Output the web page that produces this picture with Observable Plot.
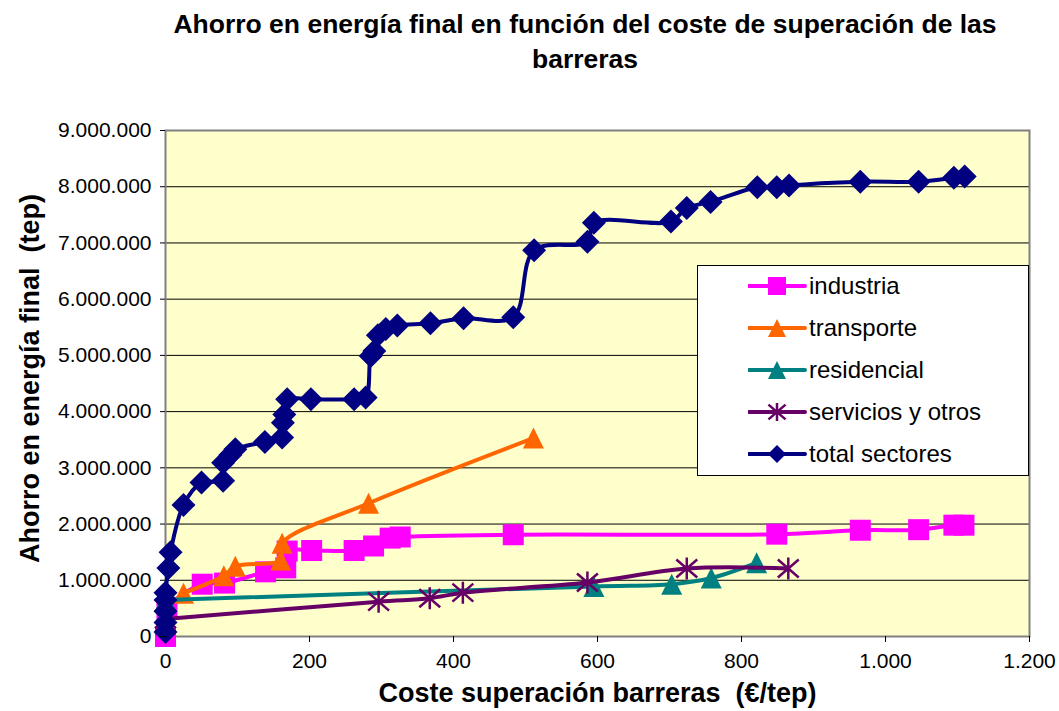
<!DOCTYPE html>
<html><head><meta charset="utf-8">
<script src="https://cdn.jsdelivr.net/npm/d3@7"></script>
<script src="https://cdn.jsdelivr.net/npm/@observablehq/plot@0.6"></script>
<style>
body{margin:0;background:#fff;font-family:"Liberation Sans",Arial,sans-serif;}
#wrap{position:relative;width:1059px;height:711px;overflow:hidden;background:#fff;}
#title{position:absolute;left:100px;width:970px;top:7px;text-align:center;font-weight:bold;font-size:26.5px;line-height:35px;color:#000;}
#chart{position:absolute;left:0;top:90px;}
#legend{position:absolute;left:697px;top:265px;width:332px;height:211px;border:1px solid #000;background:#fff;box-sizing:border-box;}
.row{position:absolute;left:50px;height:30px;display:flex;align-items:center;font-size:24px;color:#000;white-space:nowrap;}
svg text{white-space:pre;}
</style></head>
<body>
<div id="wrap">
  <div id="title">Ahorro en energía final en función del coste de superación de las<br>barreras</div>
  <div id="chart"></div>
  <div id="legend"></div>
</div>
<script>
// ---- data ----
const seriesNames = ["industria", "transporte", "residencial", "servicios y otros", "total sectores"];
const xTicks = [0, 200, 400, 600, 800, 1000, 1200];
const yTicks = [0, 1000000, 2000000, 3000000, 4000000, 5000000, 6000000, 7000000, 8000000, 9000000];

const indX = [0, 2, 51, 82, 139, 167, 169, 203, 262, 289, 312, 326, 483, 849, 965, 1046, 1095, 1109];
const indY = [0, 480000, 930000, 950000, 1150000, 1220000, 1520000, 1530000, 1530000, 1610000, 1750000, 1770000, 1810000, 1820000, 1890000, 1900000, 1980000, 1980000];

const traX = [25, 81, 97, 160, 162, 282, 511];
const traY = [770000, 1080000, 1250000, 1360000, 1660000, 2370000, 3530000];

const resX = [0, 595, 703, 758, 821];
const resY = [650000, 890000, 930000, 1040000, 1310000];

const serX = [0, 296, 367, 413, 586, 724, 865];
const serY = [310000, 620000, 680000, 780000, 960000, 1210000, 1210000];

const totX = [0, 0, 0, 0, 0, 4, 7, 25, 50, 80, 80, 90, 97, 138, 162, 163, 165, 169, 202, 262, 278, 285, 290, 295, 306, 322, 368, 414, 483, 512, 586, 595, 702, 724, 757, 822, 849, 866, 965, 1046, 1095, 1110];
const totY = [80000, 250000, 450000, 650000, 780000, 1220000, 1500000, 2340000, 2740000, 2770000, 3090000, 3230000, 3330000, 3460000, 3540000, 3800000, 3950000, 4220000, 4220000, 4220000, 4250000, 4990000, 5080000, 5360000, 5470000, 5530000, 5570000, 5660000, 5680000, 6870000, 7020000, 7360000, 7380000, 7620000, 7730000, 7990000, 7990000, 8020000, 8090000, 8090000, 8160000, 8180000];

// ---- custom Excel-like symbols (half extent s = sqrt(size)/2) ----
const sqSym = {draw(c, size){const s=Math.sqrt(size)/2;c.moveTo(-s,-s);c.lineTo(s,-s);c.lineTo(s,s);c.lineTo(-s,s);c.closePath();}};
const triSym = {draw(c, size){const s=Math.sqrt(size)/2;c.moveTo(0,-s);c.lineTo(s,s);c.lineTo(-s,s);c.closePath();}};
const diaSym = {draw(c, size){const s=Math.sqrt(size)/2;c.moveTo(0,-s);c.lineTo(s,0);c.lineTo(0,s);c.lineTo(-s,0);c.closePath();}};
const astSym = {draw(c, size){const s=Math.sqrt(size)/2;c.moveTo(0,-s);c.lineTo(0,s);c.moveTo(-s*0.95,-s*0.82);c.lineTo(s*0.95,s*0.82);c.moveTo(-s*0.95,s*0.82);c.lineTo(s*0.95,-s*0.82);}};

const colors = ["#FF00FF", "#FF6600", "#008080", "#660066", "#000080"];
const symbols = [sqSym, triSym, triSym, astSym, diaSym];
const halfSizes = [10.5, 10.5, 10.5, 11, 12];
const xsAll = [indX, traX, resX, serX, totX];
const ysAll = [indY, traY, resY, serY, totY];

const fmt = d3.formatLocale({decimal: ",", thousands: ".", grouping: [3], currency: ["", "€"]}).format(",d");

const marks = [
  Plot.frame({fill: "#FFFFCC"}),
  Plot.gridY(yTicks, {stroke: "#000", strokeOpacity: 1, strokeWidth: 1}),
  Plot.frame({stroke: "#808080", strokeWidth: 2})
];

seriesNames.forEach((name, k) => {
  const data = xsAll[k].map((x, i) => ({x, y: ysAll[k][i], s: name}));
  const isAst = symbols[k] === astSym;
  marks.push(Plot.line(data, {x: "x", y: "y", stroke: colors[k], strokeWidth: 4, curve: "catmull-rom"}));
  marks.push(Plot.dot(data, {
    x: "x", y: "y", symbol: symbols[k], r: 2 * halfSizes[k] / Math.sqrt(Math.PI),
    fill: isAst ? "none" : colors[k], stroke: isAst ? colors[k] : "none", strokeWidth: isAst ? 2.5 : 0
  }));
});

marks.push(
  Plot.axisY(yTicks, {tickFormat: fmt, tickSize: 5, tickPadding: 9, fontSize: 21, label: null, stroke: "#000"}),
  Plot.axisX(xTicks, {tickFormat: fmt, tickSize: 6, tickPadding: 11, fontSize: 21, label: null, stroke: "#000"}),
  Plot.text(["Ahorro en energía final  (tep)"], {text: d => d, frameAnchor: "left", textAnchor: "middle", lineAnchor: "middle", rotate: -90, dx: -135, dy: -5, fontSize: 27, fontWeight: "bold", fill: "#000"}),
  Plot.text(["Coste superación barreras  (€/tep)"], {text: d => d, frameAnchor: "bottom", textAnchor: "middle", lineAnchor: "middle", dy: 57, fontSize: 27, fontWeight: "bold", fill: "#000"})
);

const chart = Plot.plot({
  width: 1059, height: 621,
  marginLeft: 165, marginRight: 30, marginTop: 40, marginBottom: 75,
  x: {domain: [0, 1200], axis: null},
  y: {domain: [0, 9000000], axis: null},
  style: {fontFamily: "'Liberation Sans', Arial, sans-serif", fontSize: "21px", color: "#000", background: "transparent", overflow: "visible"},
  marks
});
document.getElementById("chart").appendChild(chart);

// ---- legend ----
const legend = d3.select("#legend");
seriesNames.forEach((name, k) => {
  const row = legend.append("div").attr("class", "row").style("top", (21 + 42 * k - 15 - 1) + "px");
  const svg = row.append("svg").attr("width", 60).attr("height", 30);
  svg.append("line").attr("x1", 1).attr("x2", 57).attr("y1", 15).attr("y2", 15)
    .attr("stroke", colors[k]).attr("stroke-width", 4).attr("stroke-linecap", "round");
  const isAst = symbols[k] === astSym;
  svg.append("path").attr("transform", "translate(29,15)")
    .attr("d", d3.symbol(symbols[k], 18 * 18)())
    .attr("fill", isAst ? "none" : colors[k]).attr("stroke", isAst ? colors[k] : "none").attr("stroke-width", isAst ? 2.5 : 0);
  row.append("span").text(name).style("margin-left", "1px");
});
</script>
</body></html>
